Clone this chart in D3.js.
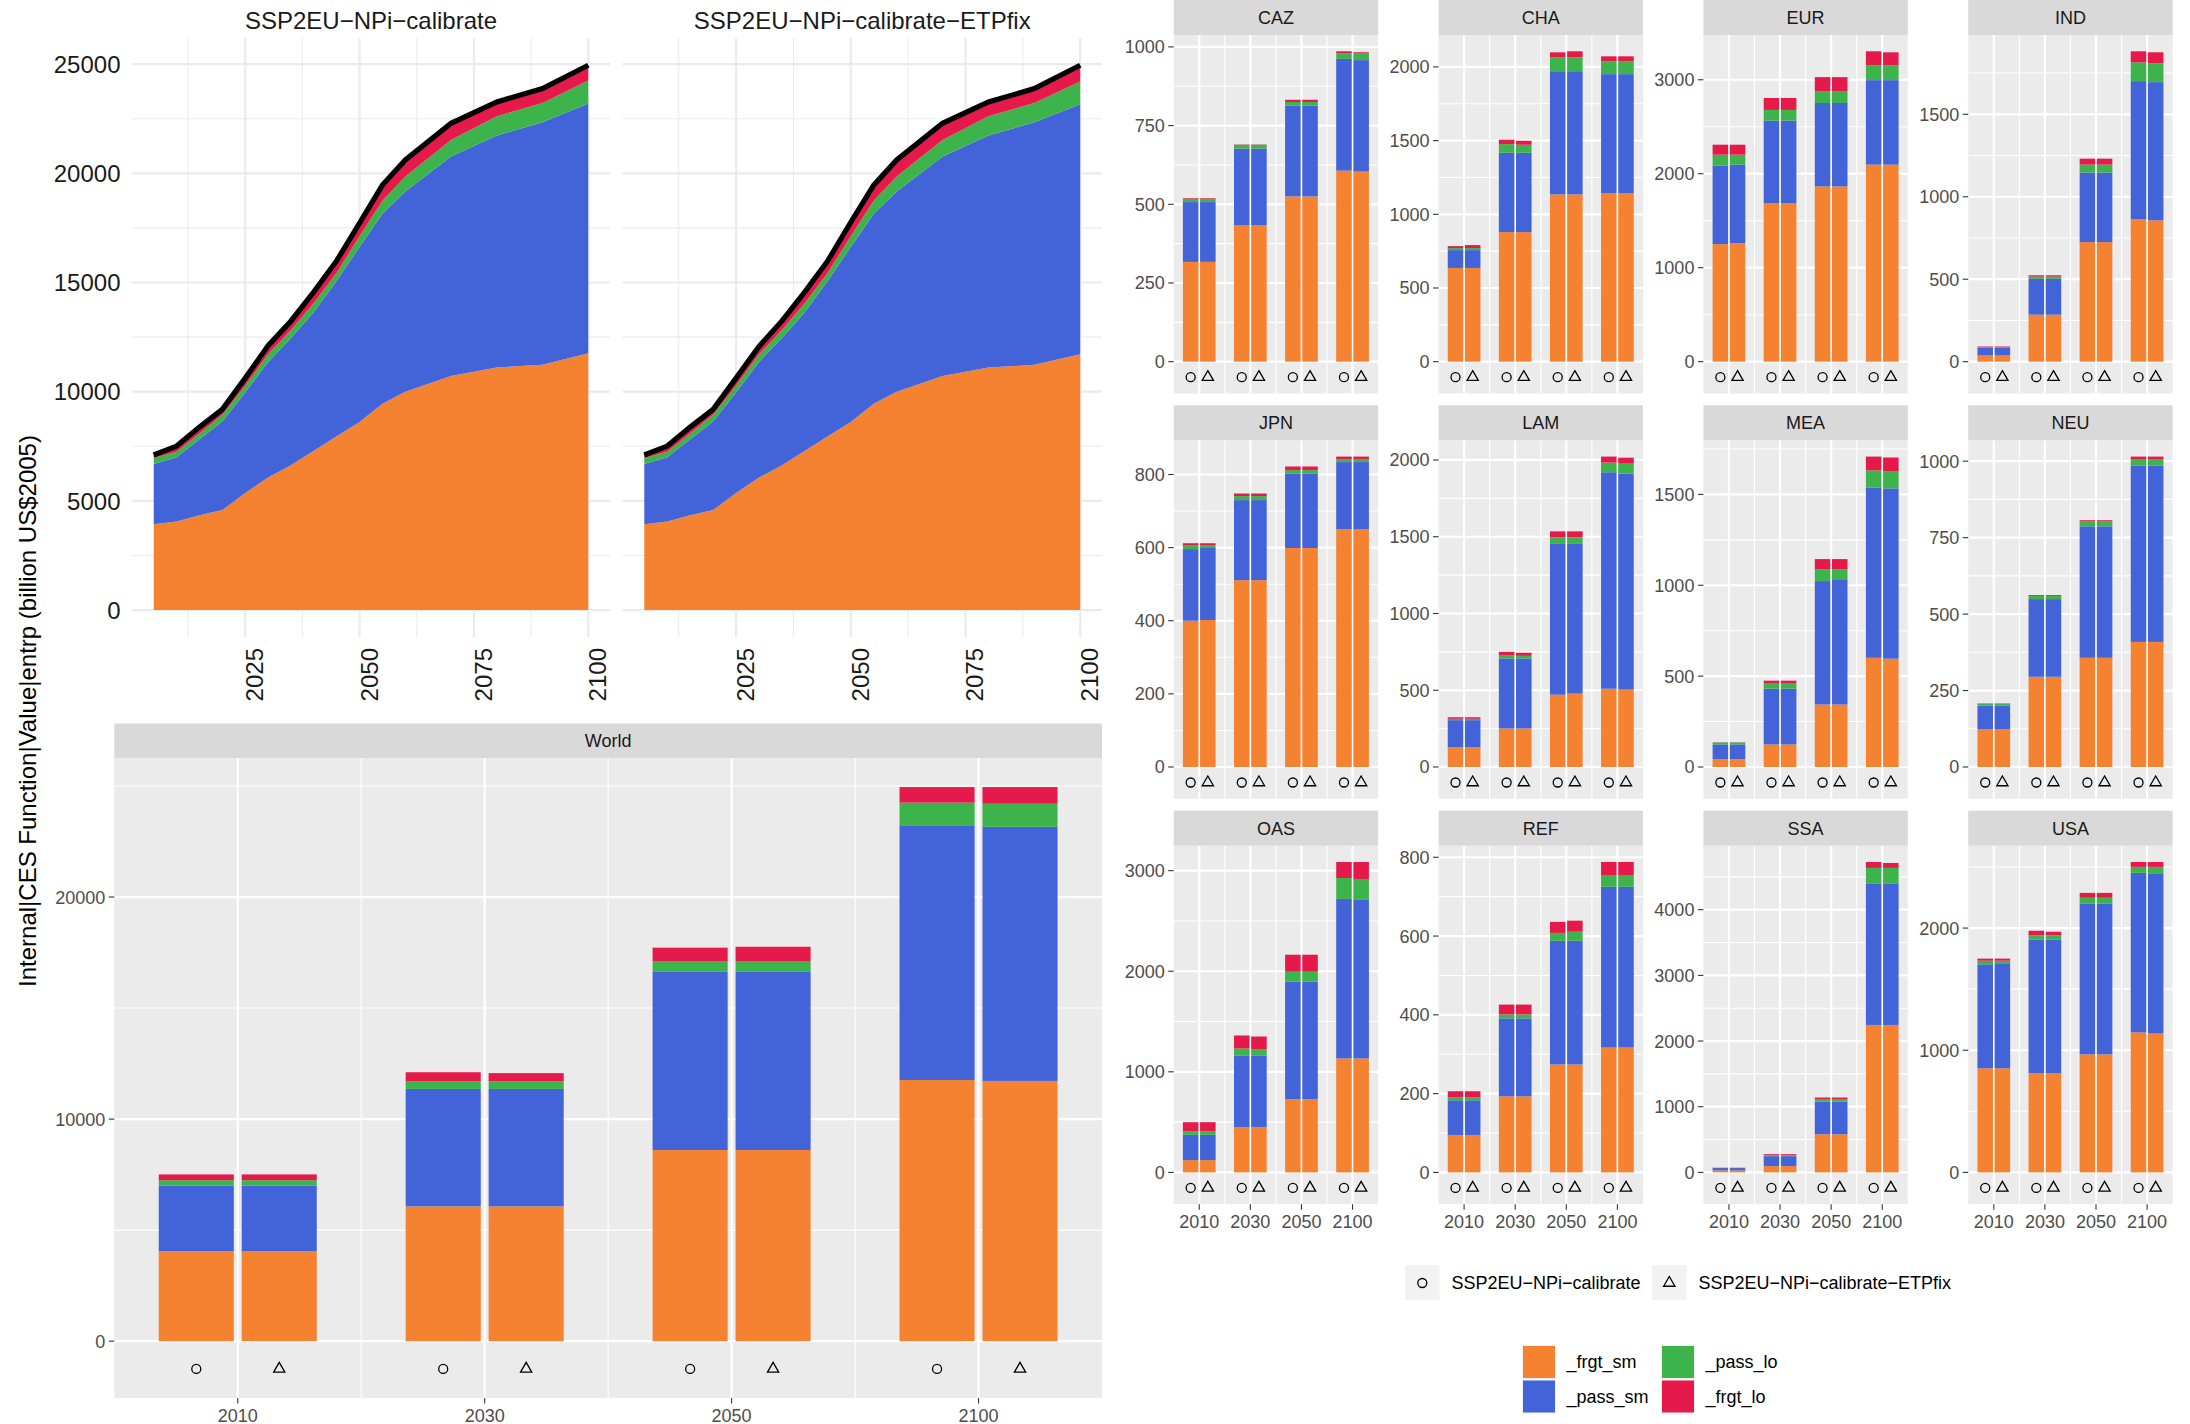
<!DOCTYPE html>
<html><head><meta charset="utf-8">
<script src="https://cdn.jsdelivr.net/npm/d3@7"></script>
<style>
body{margin:0;background:#fff;}
svg{display:block;}
text{font-family:"Liberation Sans",Arial,Helvetica,sans-serif;}
</style>
</head><body>
<svg id="c" width="2190" height="1424"></svg>
<script>
// ---------------- DATA ----------------
const components = ["_frgt_sm", "_pass_sm", "_pass_lo", "_frgt_lo"];
const compColors = ["#F58231", "#4363D8", "#3CB44B", "#E6194B"];
const scenarios = ["SSP2EU−NPi−calibrate", "SSP2EU−NPi−calibrate−ETPfix"];
const yTitle = "Internal|CES Function|Value|entrp (billion US$2005)";

const areaYears = [2005, 2010, 2015, 2020, 2025, 2030, 2035, 2040, 2045, 2050, 2055, 2060, 2070, 2080, 2090, 2100];
// World, SSP2EU-NPi-calibrate
const frgtSmCal = [3930, 4060, 4340, 4580, 5360, 6070, 6630, 7300, 7960, 8610, 9450, 10000, 10720, 11110, 11230, 11760];
const passSmCal = [2760, 2940, 3480, 4050, 4600, 5290, 5830, 6350, 7120, 8020, 8700, 9170, 10050, 10620, 11110, 11440];
const passLoCal = [270, 250, 270, 310, 310, 350, 370, 410, 370, 490, 600, 680, 760, 880, 880, 1050];
const frgtLoCal = [140, 260, 290, 250, 350, 400, 410, 510, 550, 600, 710, 760, 760, 660, 660, 700];
// World, SSP2EU-NPi-calibrate-ETPfix
const frgtSmEtp = [3930, 4060, 4340, 4580, 5360, 6070, 6630, 7300, 7960, 8610, 9450, 10000, 10720, 11110, 11230, 11720];
const passSmEtp = [2760, 2940, 3480, 4050, 4600, 5290, 5830, 6350, 7120, 8020, 8700, 9170, 10050, 10620, 11110, 11440];
const passLoEtp = [270, 250, 270, 310, 310, 350, 370, 410, 370, 490, 600, 680, 760, 880, 880, 1040];
const frgtLoEtp = [140, 260, 290, 250, 350, 360, 410, 510, 550, 640, 710, 760, 760, 660, 660, 750];

const areaXTicks = [2025, 2050, 2075, 2100];
const areaYTicks = [0, 5000, 10000, 15000, 20000, 25000];
const worldYTicks = [0, 10000, 20000];

const barYears = [2010, 2030, 2050, 2100];
const regions = ["CAZ", "CHA", "EUR", "IND", "JPN", "LAM", "MEA", "NEU", "OAS", "REF", "SSA", "USA"];

const regFrgtSmCal = [[317,433,525,607],[636,879,1135,1142],[1251,1685,1865,2097],[38,285,725,863],[400,511,599,650],[128,251,471,510],[44,124,344,601],[123,295,357,409],[122,449,727,1133],[95,193,274,317],[30,96,580,2245],[852,811,966,1146]];
const regPassSmCal = [[190,244,288,355],[121,539,836,809],[836,881,888,899],[48,217,422,838],[196,219,204,184],[177,456,982,1410],[80,307,679,937],[78,254,430,577],[251,714,1169,1586],[88,198,314,408],[36,151,499,2148],[851,1096,1233,1306]];
const regPassLoCal = [[8,12,12,18],[14,58,94,87],[116,113,127,159],[2,14,48,114],[11,11,9,7],[9,19,43,63],[11,28,66,94],[6,10,16,21],[37,69,99,208],[8,10,20,30],[4,15,31,243],[30,33,49,49]];
const regFrgtLoCal = [[4,1,7,6],[13,30,34,34],[106,127,148,148],[4,8,36,67],[5,7,10,8],[10,24,39,39],[1,16,55,76],[1,3,4,8],[89,129,169,159],[15,25,28,33],[2,15,30,90],[17,38,40,40]];

const regFrgtSmEtp = [[317,433,525,604],[636,879,1135,1142],[1262,1685,1865,2097],[38,285,725,857],[402,511,599,650],[128,251,478,504],[44,124,344,596],[123,295,357,409],[122,449,727,1133],[95,193,274,317],[30,96,580,2245],[852,811,966,1137]];
const regPassSmEtp = [[190,244,288,354],[121,539,836,809],[835,881,888,899],[48,217,422,838],[197,219,204,184],[177,456,979,1407],[80,307,685,937],[78,254,430,577],[251,714,1169,1576],[88,198,314,408],[36,151,499,2148],[860,1096,1233,1306]];
const regPassLoEtp = [[8,12,12,21],[14,54,94,87],[106,113,127,159],[2,14,48,114],[8,11,9,7],[9,17,39,65],[11,28,60,93],[6,10,16,21],[37,59,99,208],[8,10,23,30],[4,15,31,243],[21,33,49,58]];
const regFrgtLoEtp = [[4,1,7,4],[20,27,41,34],[106,127,148,137],[4,8,36,67],[5,7,10,8],[10,20,39,39],[1,16,55,77],[1,3,4,8],[89,129,169,169],[15,25,28,33],[2,15,30,75],[17,30,40,40]];

const regYTicks = [[0,250,500,750,1000],[0,500,1000,1500,2000],[0,1000,2000,3000],[0,500,1000,1500],[0,200,400,600,800],[0,500,1000,1500,2000],[0,500,1000,1500],[0,250,500,750,1000],[0,1000,2000,3000],[0,200,400,600,800],[0,1000,2000,3000,4000],[0,1000,2000]];

// ---------------- DRAWING ----------------
const svg = d3.select("#c");

function minorOf(ticks, lo, hi) {
  const step = ticks[1] - ticks[0];
  const out = [];
  ticks.forEach(t => out.push(t - step / 2));
  out.push(ticks[ticks.length - 1] + step / 2);
  return out.filter(v => v > lo && v < hi);
}

// --- top area charts ---
function drawArea(px0, px1, arrs, title, showY) {
  const g = svg.append("g");
  const rows = areaYears.map((yr, i) => ({year: yr, c0: arrs[0][i], c1: arrs[1][i], c2: arrs[2][i], c3: arrs[3][i]}));
  const keys = ["c0", "c1", "c2", "c3"];
  const series = d3.stack().keys(keys)(rows);
  const totals = rows.map(r => r.c0 + r.c1 + r.c2 + r.c3);
  const M = d3.max(totals);
  const span = 2100 - 2005;
  const x = d3.scaleLinear().domain([2005 - 0.05 * span, 2100 + 0.05 * span]).range([px0, px1]);
  const y = d3.scaleLinear().domain([-0.05 * M, 1.05 * M]).range([637.3, 38]);
  const [ylo, yhi] = y.domain();
  const [xlo, xhi] = x.domain();

  minorOf(areaYTicks, ylo, yhi).forEach(v => g.append("line").attr("x1", px0).attr("x2", px1).attr("y1", y(v)).attr("y2", y(v)).attr("stroke", "#EBEBEB").attr("stroke-width", 1.1));
  minorOf(areaXTicks, xlo, xhi).forEach(v => g.append("line").attr("x1", x(v)).attr("x2", x(v)).attr("y1", y(yhi)).attr("y2", y(ylo)).attr("stroke", "#EBEBEB").attr("stroke-width", 1.1));
  areaYTicks.forEach(v => g.append("line").attr("x1", px0).attr("x2", px1).attr("y1", y(v)).attr("y2", y(v)).attr("stroke", "#EBEBEB").attr("stroke-width", 2.2));
  areaXTicks.forEach(v => g.append("line").attr("x1", x(v)).attr("x2", x(v)).attr("y1", y(yhi)).attr("y2", y(ylo)).attr("stroke", "#EBEBEB").attr("stroke-width", 2.2));

  const area = d3.area().x(d => x(d.data.year)).y0(d => y(d[0])).y1(d => y(d[1]));
  series.forEach((s, i) => g.append("path").attr("d", area(s)).attr("fill", compColors[i]));
  const line = d3.line().x((d, i) => x(areaYears[i])).y(d => y(d));
  g.append("path").attr("d", line(totals)).attr("fill", "none").attr("stroke", "#000").attr("stroke-width", 5.2).attr("stroke-linejoin", "miter");

  g.append("text").attr("x", (px0 + px1) / 2).attr("y", 28.6).attr("text-anchor", "middle")
    .attr("font-size", 24).attr("fill", "#1A1A1A").text(title);
  if (showY) {
    areaYTicks.forEach(v => g.append("text").attr("x", 120.5).attr("y", y(v)).attr("dy", "0.36em")
      .attr("text-anchor", "end").attr("font-size", 24).attr("fill", "#1A1A1A").text(v));
  }
  areaXTicks.forEach(v => g.append("text").attr("transform", `translate(${x(v) + 18},648) rotate(-90)`)
    .attr("text-anchor", "end").attr("font-size", 24).attr("fill", "#1A1A1A").text(v));
}

drawArea(132, 610, [frgtSmCal, passSmCal, passLoCal, frgtLoCal], scenarios[0], true);
drawArea(622.5, 1102, [frgtSmEtp, passSmEtp, passLoEtp, frgtLoEtp], scenarios[1], false);

// --- faceted bar panels ---
function drawFacet(opt) {
  const g = svg.append("g");
  const {x0, w, sTop, sH, pH, title, cal, etp, ticks, showX} = opt;
  const pTop = sTop + sH, pBot = pTop + pH;
  const scen = [cal, etp];
  const totals = [];
  scen.forEach(s => barYears.forEach((yr, j) => totals.push(s[0][j] + s[1][j] + s[2][j] + s[3][j])));
  const M = d3.max(totals);
  const y = d3.scaleLinear().domain([-0.1025 * M, 1.0525 * M]).range([pBot, pTop]);
  const x = d3.scaleBand().domain(barYears).range([x0, x0 + w]).padding(0);
  const bw = x.bandwidth();
  const [ylo, yhi] = y.domain();

  g.append("rect").attr("x", x0).attr("y", pTop).attr("width", w).attr("height", pH).attr("fill", "#EBEBEB");
  minorOf(ticks, ylo, yhi).forEach(v => g.append("line").attr("x1", x0).attr("x2", x0 + w).attr("y1", y(v)).attr("y2", y(v)).attr("stroke", "#fff").attr("stroke-width", 1.1));
  barYears.slice(1).forEach(yr => g.append("line").attr("x1", x(yr)).attr("x2", x(yr)).attr("y1", pTop).attr("y2", pBot).attr("stroke", "#fff").attr("stroke-width", 1.1));
  ticks.forEach(v => g.append("line").attr("x1", x0).attr("x2", x0 + w).attr("y1", y(v)).attr("y2", y(v)).attr("stroke", "#fff").attr("stroke-width", 2.2));
  barYears.forEach(yr => g.append("line").attr("x1", x(yr) + bw / 2).attr("x2", x(yr) + bw / 2).attr("y1", pTop).attr("y2", pBot).attr("stroke", "#fff").attr("stroke-width", 2.2));

  const offs = [-0.168, 0.168], barW = 0.304;
  scen.forEach((s, si) => {
    barYears.forEach((yr, j) => {
      const cx = x(yr) + bw / 2 + offs[si] * bw;
      let cum = 0;
      s.forEach((comp, ci) => {
        const v = comp[j];
        g.append("rect").attr("x", cx - barW * bw / 2).attr("width", barW * bw)
          .attr("y", y(cum + v)).attr("height", Math.max(0, y(cum) - y(cum + v)))
          .attr("fill", compColors[ci]);
        cum += v;
      });
      const sy = y(-0.05 * M);
      if (si === 0) {
        g.append("circle").attr("cx", cx).attr("cy", sy).attr("r", 4.5).attr("fill", "none").attr("stroke", "#000").attr("stroke-width", 1.3);
      } else {
        g.append("path").attr("transform", `translate(${cx},${sy})`).attr("d", d3.symbol(d3.symbolTriangle, 55)())
          .attr("fill", "none").attr("stroke", "#000").attr("stroke-width", 1.3);
      }
    });
  });

  ticks.forEach(v => {
    g.append("line").attr("x1", x0 - 5.5).attr("x2", x0).attr("y1", y(v)).attr("y2", y(v)).attr("stroke", "#333").attr("stroke-width", 1.1);
    g.append("text").attr("x", x0 - 9).attr("y", y(v)).attr("dy", "0.36em").attr("text-anchor", "end")
      .attr("font-size", 18).attr("fill", "#4D4D4D").text(v);
  });
  if (showX) {
    barYears.forEach(yr => {
      const cx = x(yr) + bw / 2;
      g.append("line").attr("x1", cx).attr("x2", cx).attr("y1", pBot).attr("y2", pBot + 5.5).attr("stroke", "#333").attr("stroke-width", 1.1);
      g.append("text").attr("x", cx).attr("y", pBot + 23.5).attr("text-anchor", "middle")
        .attr("font-size", 18).attr("fill", "#4D4D4D").text(yr);
    });
  }
  g.append("rect").attr("x", x0).attr("y", sTop).attr("width", w).attr("height", sH).attr("fill", "#D9D9D9");
  g.append("text").attr("x", x0 + w / 2).attr("y", sTop + sH / 2).attr("dy", "0.36em").attr("text-anchor", "middle")
    .attr("font-size", 18).attr("fill", "#1A1A1A").text(title);
}

// World
const wIdx = barYears.map(yr => areaYears.indexOf(yr));
const pick = arr => wIdx.map(i => arr[i]);
drawFacet({
  x0: 114.3, w: 987.7, sTop: 723.5, sH: 34.5, pH: 640, title: "World",
  cal: [pick(frgtSmCal), pick(passSmCal), pick(passLoCal), pick(frgtLoCal)],
  etp: [pick(frgtSmEtp), pick(passSmEtp), pick(passLoEtp), pick(frgtLoEtp)],
  ticks: worldYTicks, showX: true
});

// Regions
const rowTops = [0, 405.3, 810.7];
regions.forEach((r, i) => {
  const col = i % 4, row = Math.floor(i / 4);
  drawFacet({
    x0: 1173.7 + col * 264.85, w: 204.4, sTop: rowTops[row], sH: 35, pH: 358.5, title: r,
    cal: [regFrgtSmCal[i], regPassSmCal[i], regPassLoCal[i], regFrgtLoCal[i]],
    etp: [regFrgtSmEtp[i], regPassSmEtp[i], regPassLoEtp[i], regFrgtLoEtp[i]],
    ticks: regYTicks[i], showX: row === 2
  });
});

// y-axis title
svg.append("text").attr("transform", "translate(36,711) rotate(-90)").attr("text-anchor", "middle")
  .attr("font-size", 24).attr("fill", "#000").text(yTitle);

// --- legends ---
const lg = svg.append("g");
const shapeKeyX = [1405, 1652];
scenarios.forEach((s, i) => {
  const kx = shapeKeyX[i];
  lg.append("rect").attr("x", kx).attr("y", 1265).attr("width", 34.5).attr("height", 35).attr("fill", "#F2F2F2");
  if (i === 0) {
    lg.append("circle").attr("cx", kx + 17.3).attr("cy", 1283).attr("r", 4.5).attr("fill", "none").attr("stroke", "#000").attr("stroke-width", 1.3);
  } else {
    lg.append("path").attr("transform", `translate(${kx + 17.3},1283)`).attr("d", d3.symbol(d3.symbolTriangle, 55)())
      .attr("fill", "none").attr("stroke", "#000").attr("stroke-width", 1.3);
  }
  lg.append("text").attr("x", kx + 46.5).attr("y", 1283).attr("dy", "0.36em").attr("font-size", 18).attr("fill", "#000").text(s);
});
const fillPos = [[1522, 1345], [1522, 1379.5], [1661, 1345], [1661, 1379.5]];
components.forEach((c, ci) => {
  const [fx, fy] = fillPos[ci];
  lg.append("rect").attr("x", fx).attr("y", fy).attr("width", 34).attr("height", 34).attr("fill", "#F2F2F2");
  lg.append("rect").attr("x", fx + 1).attr("y", fy + 1).attr("width", 32).attr("height", 32).attr("fill", compColors[ci]);
  lg.append("text").attr("x", fx + 44.5).attr("y", fy + 17).attr("dy", "0.36em").attr("font-size", 18).attr("fill", "#000").text(c);
});
</script>
</body></html>
